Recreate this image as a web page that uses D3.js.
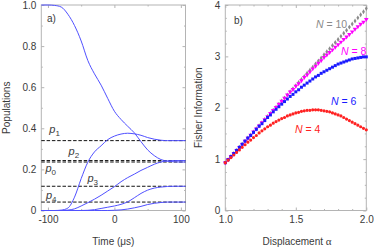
<!DOCTYPE html>
<html>
<head>
<meta charset="utf-8">
<script src="https://cdn.jsdelivr.net/npm/d3@7"></script>
<style>
  body { margin: 0; background: #fff; }
  svg { display: block; font-family: "Liberation Sans", Arial, sans-serif; }
  .frame { fill: none; stroke: #b4b4b4; stroke-width: 1; }
  .tick line { stroke: #b4b4b4; }
  .domain { display: none; }
  .tick text { font-size: 10px; fill: #3a3a3a; }
  .curve { fill: none; stroke: #5050ff; stroke-width: 1; }
  .eq { stroke: #111; stroke-width: 1; stroke-dasharray: 3.5 1.8; }
  .lbl { font-size: 10px; fill: #3a3a3a; }
</style>
</head>
<body>
<div id="chart"></div>
<script>
// ---- panel a) populations vs time ----
const times = [-110, -100, -90, -80, -70, -60, -50, -40, -30, -20, -10, 0, 10, 20, 30, 40, 50, 60, 70, 80, 90, 100, 107];
const pop0 = [1.0, 1.0, 0.998, 0.99, 0.955, 0.90, 0.825, 0.73, 0.665, 0.61, 0.545, 0.483, 0.443, 0.41, 0.378, 0.335, 0.295, 0.267, 0.248, 0.240, 0.237, 0.236, 0.236];
const pop1 = [0, 0, 0, 0.002, 0.012, 0.065, 0.155, 0.235, 0.285, 0.315, 0.345, 0.362, 0.372, 0.376, 0.373, 0.366, 0.355, 0.347, 0.342, 0.340, 0.340, 0.340, 0.340];
const pop2 = [0, 0, 0, 0, 0.002, 0.008, 0.022, 0.038, 0.055, 0.074, 0.095, 0.116, 0.14, 0.16, 0.177, 0.195, 0.21, 0.225, 0.236, 0.241, 0.243, 0.243, 0.243];
const pop3 = [0, 0, 0, 0, 0, 0, 0, 0.001, 0.004, 0.01, 0.016, 0.022, 0.03, 0.042, 0.062, 0.083, 0.099, 0.109, 0.114, 0.117, 0.118, 0.118, 0.118];
const pop4 = [0, 0, 0, 0, 0, 0, 0, 0, 0, 0, 0, 0.001, 0.003, 0.007, 0.013, 0.02, 0.029, 0.035, 0.039, 0.041, 0.041, 0.041, 0.041];
const steady = [0.236, 0.340, 0.243, 0.118, 0.041];   // p0..p4
const popLabels = [
  { n: "0", t: -103.7, p: 0.185 },
  { n: "1", t: -98, p: 0.375 },
  { n: "2", t: -69, p: 0.272 },
  { n: "3", t: -40.5, p: 0.139 },
  { n: "4", t: -103, p: 0.056 }
];

// ---- panel b) Fisher information vs displacement ----
const alpha = [1.00, 1.02, 1.04, 1.06, 1.08, 1.10, 1.12, 1.14, 1.16, 1.18, 1.20, 1.22, 1.24, 1.26, 1.28, 1.30, 1.32, 1.34, 1.36, 1.38,
  1.40, 1.42, 1.44, 1.46, 1.48, 1.50, 1.52, 1.54, 1.56, 1.58, 1.60, 1.62, 1.64, 1.66, 1.68, 1.70, 1.72, 1.74, 1.76, 1.78,
  1.80, 1.82, 1.84, 1.86, 1.88, 1.90, 1.92, 1.94, 1.96, 1.98, 2.00];
const fisher4 = [0.93, 0.98, 1.03, 1.08, 1.13, 1.18, 1.23, 1.28, 1.33, 1.37, 1.42, 1.46, 1.51, 1.55, 1.59, 1.63, 1.66, 1.70, 1.73, 1.76,
  1.79, 1.81, 1.84, 1.86, 1.88, 1.90, 1.91, 1.93, 1.94, 1.95, 1.95, 1.96, 1.96, 1.96, 1.95, 1.94, 1.93, 1.92, 1.90, 1.88,
  1.86, 1.84, 1.81, 1.78, 1.75, 1.72, 1.69, 1.66, 1.63, 1.60, 1.57];
const fisher6 = [0.93, 0.99, 1.05, 1.11, 1.17, 1.23, 1.29, 1.35, 1.41, 1.46, 1.52, 1.58, 1.64, 1.69, 1.75, 1.81, 1.86, 1.92, 1.97, 2.02,
  2.07, 2.12, 2.17, 2.22, 2.26, 2.31, 2.35, 2.40, 2.44, 2.48, 2.52, 2.56, 2.60, 2.63, 2.67, 2.70, 2.73, 2.76, 2.79, 2.82,
  2.85, 2.87, 2.89, 2.91, 2.93, 2.95, 2.96, 2.97, 2.98, 2.99, 2.99];
const fisher8 = [0.93, 0.99, 1.05, 1.11, 1.17, 1.23, 1.29, 1.35, 1.41, 1.47, 1.53, 1.59, 1.65, 1.71, 1.77, 1.83, 1.89, 1.95, 2.01, 2.07,
  2.13, 2.19, 2.25, 2.31, 2.36, 2.42, 2.47, 2.53, 2.59, 2.64, 2.70, 2.76, 2.81, 2.87, 2.92, 2.98, 3.03, 3.08, 3.13, 3.18,
  3.23, 3.28, 3.33, 3.38, 3.43, 3.48, 3.53, 3.58, 3.63, 3.67, 3.72];
const fisher10 = [0.93, 0.99, 1.05, 1.11, 1.17, 1.23, 1.29, 1.35, 1.41, 1.47, 1.53, 1.59, 1.65, 1.71, 1.77, 1.83, 1.89, 1.95, 2.01, 2.07,
  2.13, 2.19, 2.25, 2.31, 2.37, 2.43, 2.49, 2.55, 2.61, 2.67, 2.73, 2.79, 2.85, 2.91, 2.97, 3.03, 3.09, 3.15, 3.21, 3.27,
  3.33, 3.39, 3.45, 3.51, 3.57, 3.63, 3.69, 3.75, 3.81, 3.87, 3.93];
const nLabels = [
  { text: "10", a: 1.643, f: 3.55, color: "#8a8a8a" },
  { text: "8", a: 1.821, f: 3.03, color: "#ff00ff" },
  { text: "6", a: 1.750, f: 2.05, color: "#1a1aff" },
  { text: "4", a: 1.494, f: 1.51, color: "#ff2222" }
];

const W = 374, H = 249;
const svg = d3.select("#chart").append("svg")
  .attr("width", W).attr("height", H);

// -------------------- panel a --------------------
const xa = d3.scaleLinear().domain([-110, 107]).range([41.3, 185.5]);
const ya = d3.scaleLinear().domain([0, 1]).range([210.5, 5]);

function frame(x, y) {
  const [x0, x1] = x.range(), [y1, y0] = y.range();
  svg.append("rect").attr("class", "frame")
    .attr("x", x0).attr("y", y0).attr("width", x1 - x0).attr("height", y1 - y0);
}

function axes(x, y, xt, yt, xminor, yminor, xfmt, yfmt) {
  const [x0, x1] = x.range(), [y1, y0] = y.range();
  svg.append("g").attr("transform", `translate(0,${y1})`)
    .call(d3.axisBottom(x).tickValues(xt).tickFormat(xfmt).tickSize(-3).tickPadding(5));
  svg.append("g").attr("transform", `translate(${x0},0)`)
    .call(d3.axisLeft(y).tickValues(yt).tickFormat(yfmt).tickSize(-3).tickPadding(5));
  svg.append("g").attr("transform", `translate(0,${y0})`)
    .call(d3.axisTop(x).tickValues(xt).tickFormat("").tickSize(-3));
  svg.append("g").attr("transform", `translate(${x1},0)`)
    .call(d3.axisRight(y).tickValues(yt).tickFormat("").tickSize(-3));
  // minor ticks
  svg.append("g").attr("transform", `translate(0,${y1})`)
    .call(d3.axisBottom(x).tickValues(xminor).tickFormat("").tickSize(-1.5));
  svg.append("g").attr("transform", `translate(0,${y0})`)
    .call(d3.axisTop(x).tickValues(xminor).tickFormat("").tickSize(-1.5));
  svg.append("g").attr("transform", `translate(${x0},0)`)
    .call(d3.axisLeft(y).tickValues(yminor).tickFormat("").tickSize(-1.5));
  svg.append("g").attr("transform", `translate(${x1},0)`)
    .call(d3.axisRight(y).tickValues(yminor).tickFormat("").tickSize(-1.5));
}

frame(xa, ya);
axes(xa, ya, [-100, 0, 100], [0, 0.2, 0.4, 0.6, 0.8, 1.0],
  [-50, 50], [0.1, 0.3, 0.5, 0.7, 0.9],
  d => String(d), d => d === 0 ? "0" : d3.format(".1f")(d));

// steady-state dashed lines
svg.append("g").selectAll("line").data(steady).join("line")
  .attr("class", "eq")
  .attr("x1", xa.range()[0]).attr("x2", xa.range()[1])
  .attr("y1", d => ya(d)).attr("y2", d => ya(d));

const lineA = d3.line().curve(d3.curveMonotoneX)
  .x((d, i) => xa(times[i])).y(d => ya(d));
svg.append("g").selectAll("path").data([pop4, pop3, pop2, pop1, pop0]).join("path")
  .attr("class", "curve").attr("d", lineA);

svg.append("g").selectAll("text").data(popLabels).join("text")
  .attr("x", d => xa(d.t)).attr("y", d => ya(d.p))
  .style("font-size", "11px").style("fill", "#3a3a3a")
  .call(t => {
    t.append("tspan").style("font-style", "italic").text("p");
    t.append("tspan").attr("dy", 3).style("font-size", "8px").text(d => d.n);
  });

svg.append("text").attr("class", "lbl").attr("x", 47).attr("y", 22).text("a)");
svg.append("text").attr("class", "lbl")
  .attr("x", (xa.range()[0] + xa.range()[1]) / 2).attr("y", 245)
  .attr("text-anchor", "middle").text("Time (\u03bcs)");
svg.append("text").attr("class", "lbl")
  .attr("transform", `translate(10,${(ya.range()[0] + ya.range()[1]) / 2}) rotate(-90)`)
  .attr("text-anchor", "middle").text("Populations");

// -------------------- panel b --------------------
const xb = d3.scaleLinear().domain([1, 2]).range([225.3, 366.3]);
const yb = d3.scaleLinear().domain([0, 4]).range([210.5, 5]);

frame(xb, yb);
axes(xb, yb, [1, 1.5, 2], [0, 1, 2, 3, 4],
  [1.1, 1.2, 1.3, 1.4, 1.6, 1.7, 1.8, 1.9], [0.25, 0.5, 0.75, 1.25, 1.5, 1.75, 2.25, 2.5, 2.75, 3.25, 3.5, 3.75],
  d3.format(".1f"), d3.format("d"));

const series = [
  { vals: fisher10, color: "#8a8a8a", sym: d3.symbolDiamond, size: 7, rot: 0 },
  { vals: fisher8, color: "#ff00ff", sym: d3.symbolTriangle, size: 9, rot: 180 },
  { vals: fisher6, color: "#1a1aff", sym: d3.symbolSquare, size: 9, rot: 0 },
  { vals: fisher4, color: "#ff2222", sym: d3.symbolCircle, size: 8, rot: 0 }
];

series.forEach(s => {
  svg.append("g").selectAll("path").data(s.vals).join("path")
    .attr("d", d3.symbol().type(s.sym).size(s.size))
    .attr("transform", (d, i) => `translate(${xb(alpha[i])},${yb(d)}) rotate(${s.rot})`)
    .attr("fill", s.color);
});

svg.append("g").selectAll("text").data(nLabels).join("text")
  .attr("x", d => xb(d.a)).attr("y", d => yb(d.f))
  .style("font-size", "10.5px").style("fill", d => d.color)
  .call(t => {
    t.append("tspan").style("font-style", "italic").text("N");
    t.append("tspan").text(d => " = " + d.text);
  });

svg.append("text").attr("class", "lbl").attr("x", 234).attr("y", 24).text("b)");
svg.append("text").attr("class", "lbl")
  .attr("x", 297).attr("y", 245)
  .attr("text-anchor", "middle")
  .call(t => {
    t.append("tspan").text("Displacement ");
    t.append("tspan").style("font-family", "'Liberation Serif', serif").style("font-size", "11px").text("\u03b1");
  });
svg.append("text").attr("class", "lbl")
  .attr("transform", `translate(202,${(yb.range()[0] + yb.range()[1]) / 2}) rotate(-90)`)
  .attr("text-anchor", "middle").text("Fisher Information");
</script>
</body>
</html>
